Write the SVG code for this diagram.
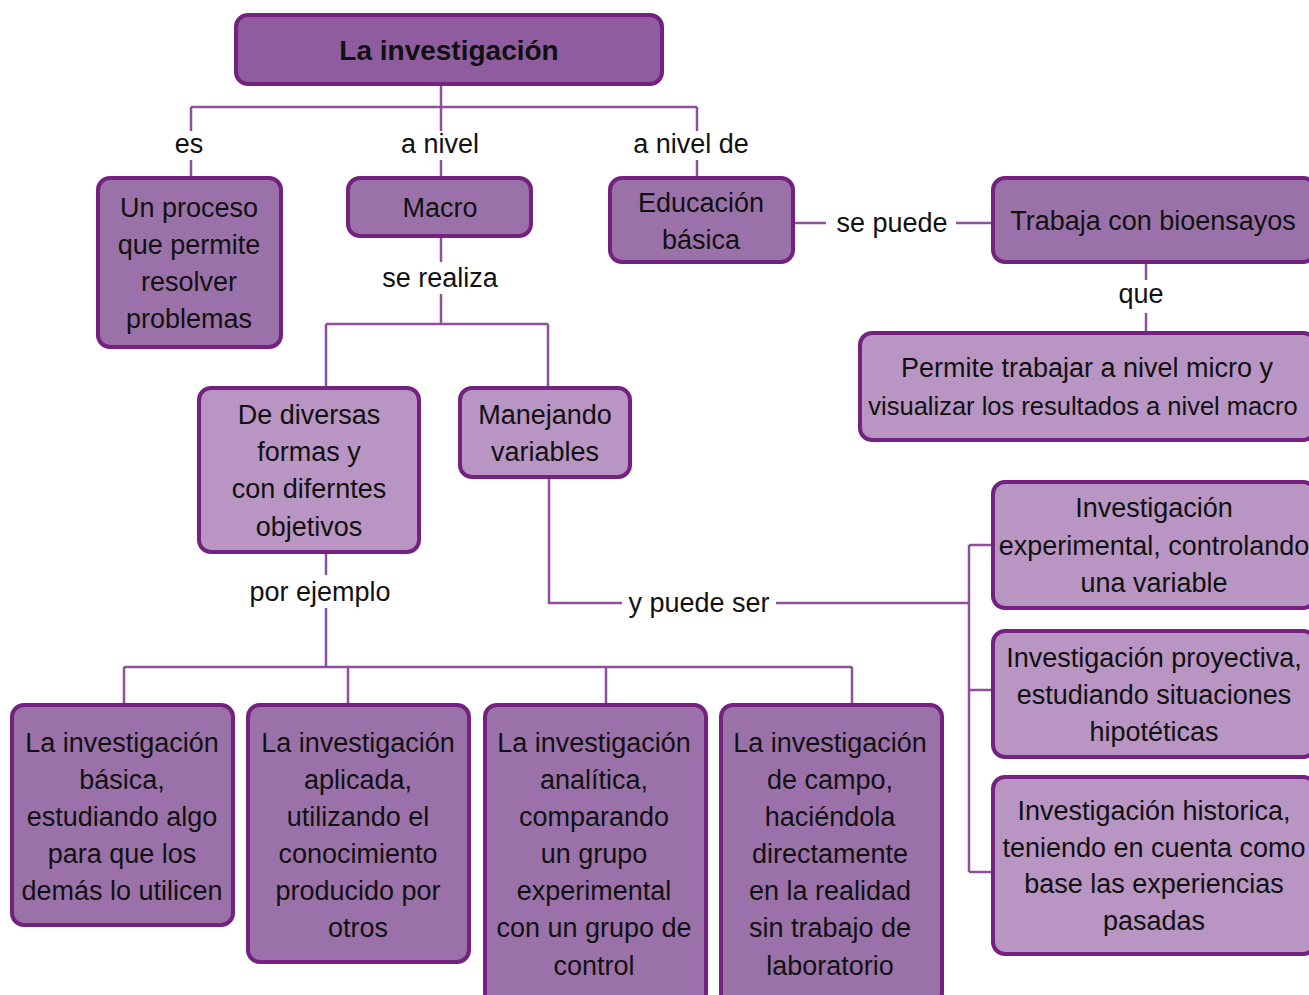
<svg xmlns="http://www.w3.org/2000/svg" width="1309" height="995" viewBox="0 0 1309 995">
<style>
.d{fill:#9b71a9;stroke:#75217f;stroke-width:4}
.l{fill:#b895c3;stroke:#75217f;stroke-width:4}
.h{fill:#8f5d9f;stroke:#75217f;stroke-width:4}
.c{fill:none;stroke:#8f4f9c;stroke-width:2.5}
text{font-family:"Liberation Sans",Arial,sans-serif;font-size:27px;text-anchor:middle;fill:#111}
.tt{font-weight:bold;font-size:28px}
.sm{font-size:25.5px}
</style>
<rect width="1309" height="995" fill="#fff"/>
<g id="connectors">
<path class="c" d="M441 84V107M191 107H697M191 107V131M191 160V178M441 107V131M441 160V178M697 107V131M697 160V178"/>
<path class="c" d="M441 236V262M441 294V324M326 324H548M326 324V388M548 324V388"/>
<path class="c" d="M793 223H826M956 223H993"/>
<path class="c" d="M1146 262V280M1146 313V333"/>
<path class="c" d="M326 552V575M326 608V667M124 667H852M124 667V705M348 667V705M606 667V705M852 667V705"/>
<path class="c" d="M549 477V603H622M776 603H969M969 545V872M969 545H993M969 690H993M969 872H993"/>
</g>
<g id="labels">
<text x="189" y="153">es</text>
<text x="440" y="153">a nivel</text>
<text x="691" y="153">a nivel de</text>
<text x="440" y="287">se realiza</text>
<text x="892" y="232">se puede</text>
<text x="1141" y="303">que</text>
<text x="320" y="601">por ejemplo</text>
<text x="699" y="612">y puede ser</text>
</g>
<g id="n-title"><rect class="h" x="236" y="15" width="426" height="69" rx="12"/><text class="tt" x="449" y="60">La investigación</text></g>
<g id="n-proceso"><rect class="d" x="98" y="178" width="183" height="169" rx="12"/><text x="189"><tspan x="189" y="217">Un proceso</tspan><tspan x="189" y="254">que permite</tspan><tspan x="189" y="291">resolver</tspan><tspan x="189" y="328">problemas</tspan></text></g>
<g id="n-macro"><rect class="d" x="348" y="178" width="183" height="58" rx="12"/><text x="440" y="217">Macro</text></g>
<g id="n-educacion"><rect class="d" x="610" y="178" width="183" height="84" rx="12"/><text x="701"><tspan x="701" y="212">Educación</tspan><tspan x="701" y="249">básica</tspan></text></g>
<g id="n-trabaja"><rect class="d" x="993" y="178" width="322" height="84" rx="12"/><text x="1153" y="230">Trabaja con bioensayos</text></g>
<g id="n-permite"><rect class="l" x="860" y="333" width="455" height="107" rx="12"/><text x="1087" y="377">Permite trabajar a nivel micro y</text><text class="sm" x="1083" y="415">visualizar los resultados a nivel macro</text></g>
<g id="n-diversas"><rect class="l" x="199" y="388" width="220" height="164" rx="12"/><text x="309"><tspan x="309" y="424">De diversas</tspan><tspan x="309" y="461">formas y</tspan><tspan x="309" y="498">con diferntes</tspan><tspan x="309" y="536">objetivos</tspan></text></g>
<g id="n-manejando"><rect class="l" x="460" y="388" width="170" height="89" rx="12"/><text x="545"><tspan x="545" y="424">Manejando</tspan><tspan x="545" y="461">variables</tspan></text></g>
<g id="n-experimental"><rect class="l" x="993" y="482" width="322" height="126" rx="12"/><text x="1154"><tspan x="1154" y="517">Investigación</tspan><tspan x="1154" y="555">experimental, controlando</tspan><tspan x="1154" y="592">una variable</tspan></text></g>
<g id="n-proyectiva"><rect class="l" x="993" y="631" width="322" height="126" rx="12"/><text x="1154"><tspan x="1154" y="667">Investigación proyectiva,</tspan><tspan x="1154" y="704">estudiando situaciones</tspan><tspan x="1154" y="741">hipotéticas</tspan></text></g>
<g id="n-historica"><rect class="l" x="993" y="777" width="322" height="177" rx="12"/><text x="1154"><tspan x="1154" y="820">Investigación historica,</tspan><tspan x="1154" y="857">teniendo en cuenta como</tspan><tspan x="1154" y="893">base las experiencias</tspan><tspan x="1154" y="930">pasadas</tspan></text></g>
<g id="n-basica"><rect class="d" x="12" y="705" width="221" height="220" rx="12"/><text x="122"><tspan x="122" y="752">La investigación</tspan><tspan x="122" y="789">básica,</tspan><tspan x="122" y="826">estudiando algo</tspan><tspan x="122" y="863">para que los</tspan><tspan x="122" y="900">demás lo utilicen</tspan></text></g>
<g id="n-aplicada"><rect class="d" x="248" y="705" width="221" height="257" rx="12"/><text x="358"><tspan x="358" y="752">La investigación</tspan><tspan x="358" y="789">aplicada,</tspan><tspan x="358" y="826">utilizando el</tspan><tspan x="358" y="863">conocimiento</tspan><tspan x="358" y="900">producido por</tspan><tspan x="358" y="937">otros</tspan></text></g>
<g id="n-analitica"><rect class="d" x="485" y="705" width="221" height="300" rx="12"/><text x="594"><tspan x="594" y="752">La investigación</tspan><tspan x="594" y="789">analítica,</tspan><tspan x="594" y="826">comparando</tspan><tspan x="594" y="863">un grupo</tspan><tspan x="594" y="900">experimental</tspan><tspan x="594" y="937">con un grupo de</tspan><tspan x="594" y="975">control</tspan></text></g>
<g id="n-campo"><rect class="d" x="721" y="705" width="221" height="300" rx="12"/><text x="830"><tspan x="830" y="752">La investigación</tspan><tspan x="830" y="789">de campo,</tspan><tspan x="830" y="826">haciéndola</tspan><tspan x="830" y="863">directamente</tspan><tspan x="830" y="900">en la realidad</tspan><tspan x="830" y="937">sin trabajo de</tspan><tspan x="830" y="975">laboratorio</tspan></text></g>
</svg>
